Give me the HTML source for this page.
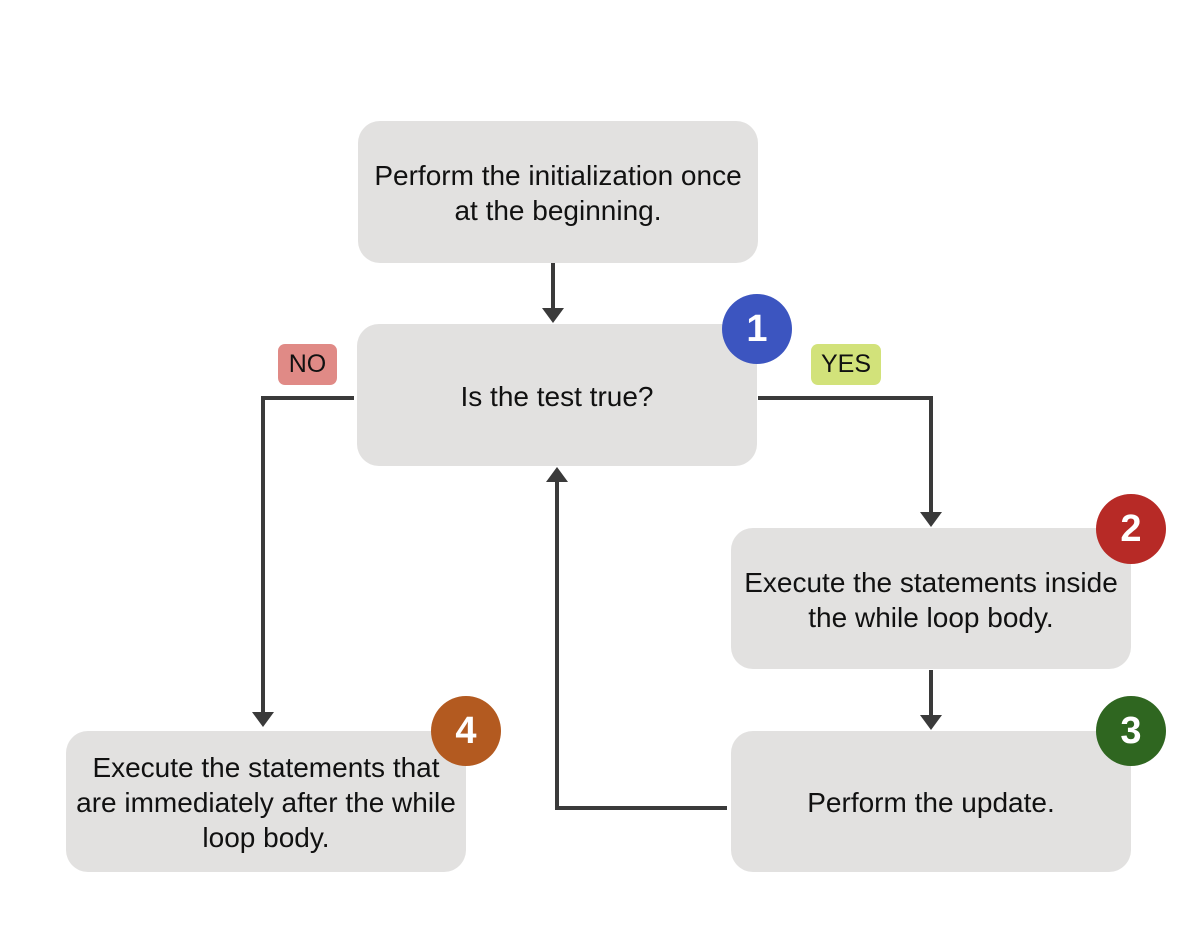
<!DOCTYPE html>
<html><head><style>
body{margin:0;background:#fff;width:1202px;height:928px;position:relative;overflow:hidden;font-family:"Liberation Sans",sans-serif;}
.b{position:absolute;background:#e2e1e0;border-radius:22px;display:flex;align-items:center;justify-content:center;text-align:center;font-size:28px;line-height:35px;color:#111;white-space:nowrap;padding-top:2px;box-sizing:border-box;}
.c{position:absolute;width:70px;height:70px;border-radius:50%;color:#fff;font-size:38px;font-weight:bold;display:flex;align-items:center;justify-content:center;}
.l{position:absolute;border-radius:7px;font-size:25px;display:flex;align-items:center;justify-content:center;color:#111;}
svg{position:absolute;left:0;top:0}
</style></head><body>
<div class="b" style="left:358px;top:121px;width:400px;height:142px">Perform the initialization once<br>at the beginning.</div>
<div class="b" style="left:357px;top:324px;width:400px;height:142px">Is the test true?</div>
<div class="b" style="left:731px;top:528px;width:400px;height:141px">Execute the statements inside<br>the while loop body.</div>
<div class="b" style="left:731px;top:731px;width:400px;height:141px">Perform the update.</div>
<div class="b" style="left:66px;top:731px;width:400px;height:141px">Execute the statements that<br>are immediately after the while<br>loop body.</div>
<svg width="1202" height="928">
<g stroke="#3a3a3a" stroke-width="4" fill="none">
<path d="M553 263V312"/>
<path d="M354 398H263V716"/>
<path d="M758 398H931V516"/>
<path d="M931 670V719"/>
<path d="M727 808H557V478"/>
</g>
<g fill="#3a3a3a">
<path d="M542 308h22l-11 15z"/>
<path d="M252 712h22l-11 15z"/>
<path d="M920 512h22l-11 15z"/>
<path d="M920 715h22l-11 15z"/>
<path d="M546 482h22l-11 -15z"/>
</g>
</svg>
<div class="l" style="left:278px;top:344px;width:59px;height:41px;background:#e08a86">NO</div>
<div class="l" style="left:811px;top:344px;width:70px;height:41px;background:#d2e27a">YES</div>
<div class="c" style="left:722px;top:294px;background:#3c55c0">1</div>
<div class="c" style="left:1096px;top:494px;background:#b72a26">2</div>
<div class="c" style="left:1096px;top:696px;background:#2f6620">3</div>
<div class="c" style="left:431px;top:696px;background:#b35a20">4</div>
</body></html>
